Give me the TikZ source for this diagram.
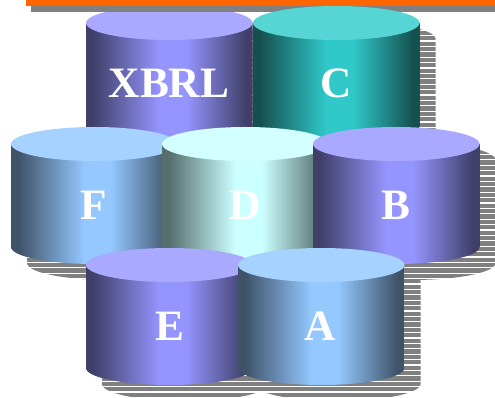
\documentclass[tikz,border=0pt]{standalone}
\usepackage{fontspec}
\setmainfont{Liberation Serif}

\definecolor{barorange}{HTML}{FF6600}
\definecolor{shadowgray}{HTML}{808080}
\definecolor{violetdark}{HTML}{3F3F69}
\definecolor{violetmid}{HTML}{9595FF}
\definecolor{violettop}{HTML}{A9A9FF}
\definecolor{tealdark}{HTML}{155050}
\definecolor{tealmid}{HTML}{30C8C8}
\definecolor{tealtop}{HTML}{57D5D5}
\definecolor{bluedark}{HTML}{3E5268}
\definecolor{bluemid}{HTML}{94C8FF}
\definecolor{bluetop}{HTML}{A6D2FF}
\definecolor{icedark}{HTML}{566E6E}
\definecolor{icemid}{HTML}{CCFFFF}
\definecolor{icetop}{HTML}{D2FFFF}

\pgfdeclarehorizontalshading[drumdark,drumlight]{drumside}{100bp}{
	color(0bp)=(drumdark); color(27bp)=(drumdark); color(47bp)=(drumlight);
	color(55bp)=(drumlight); color(73bp)=(drumdark); color(100bp)=(drumdark)}

\tikzset{
	drumlabel/.style={inner sep=0pt,text=white,font=\fontsize{32.5}{32.5}\selectfont\bfseries}
}

% left edge, top centre y, dark, light, lid
\newcommand{\drumpart}[5]{
	\colorlet{drumdark}{#3}
	\colorlet{drumlight}{#4}
	\shade[shading=drumside] (#1,#2) -- (#1,#2+103) arc[start angle=180,end angle=0,x radius=83.25,y radius=17] -- (#1+166.5,#2) -- cycle;
	\fill[#5] (#1+83.25,#2) ellipse [x radius=83.25,y radius=17];
}
\newcommand{\drumshadow}[2]{
	\fill[shadowgray] (#1+16,#2+16) -- (#1+16,#2+119) arc[start angle=180,end angle=0,x radius=83.25,y radius=17] -- (#1+182.5,#2+16) arc[start angle=0,end angle=-180,x radius=83.25,y radius=17] -- cycle;
}

\begin{document}
\begin{tikzpicture}[x=0.75pt,y=0.75pt,yscale=-1,xscale=1]
	\path[use as bounding box] (0,0) rectangle (495,398);

	%Shadows
	\foreach \px/\py in {86/23,253/23,11/144,162/144,313/144,86/265,238/265}
		\drumshadow{\px}{\py};
	%Stripes across the shadows
	\foreach \sy in {0,...,73}
		\fill[white] (0,2.6+5.4*\sy) rectangle (495,3.8+5.4*\sy);

	%Shape: back row, left
	\drumpart{86}{23}{violetdark}{violetmid}{violettop}

	%Shape: top bars
	\fill[shadowgray] (31,6) rectangle (495,12);
	\fill[barorange] (26,0) rectangle (495,6);

	%Shape: back row, right
	\drumpart{253}{23}{tealdark}{tealmid}{tealtop}
	%Shape: middle row
	\drumpart{11}{144}{bluedark}{bluemid}{bluetop}
	\drumpart{162}{144}{icedark}{icemid}{icetop}
	\drumpart{313}{144}{violetdark}{violetmid}{violettop}
	%Shape: front row
	\drumpart{86}{265}{violetdark}{violetmid}{violettop}
	\drumpart{238}{265}{bluedark}{bluemid}{bluetop}

	% Text Node
	\node[drumlabel] (xbrl) at (169,83) {XBRL};
	% Text Node
	\node[drumlabel] (c) at (336,83) {C};
	% Text Node
	\node[drumlabel] (f) at (93.5,205) {F};
	% Text Node
	\node[drumlabel] (d) at (245,205) {D};
	% Text Node
	\node[drumlabel] (b) at (396,205) {B};
	% Text Node
	\node[drumlabel] (e) at (170,326) {E};
	% Text Node
	\node[drumlabel] (a) at (320,326) {A};
\end{tikzpicture}
\end{document}
